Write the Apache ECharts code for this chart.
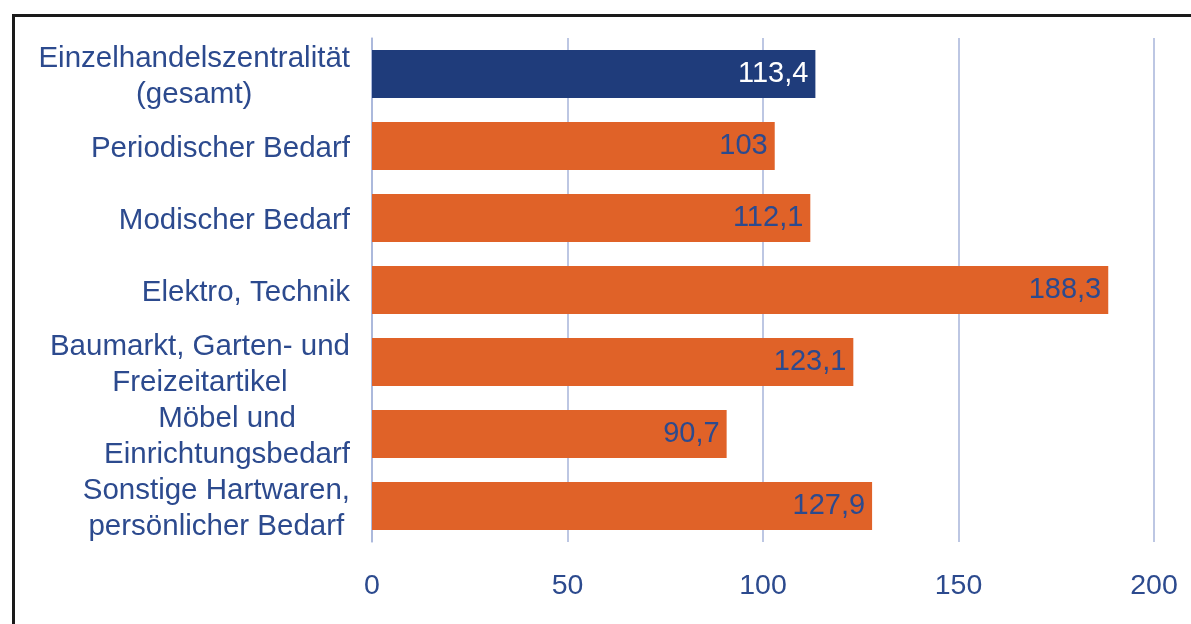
<!DOCTYPE html>
<html>
<head>
<meta charset="utf-8">
<script src="https://cdn.jsdelivr.net/npm/echarts@6/dist/echarts.min.js"></script>
<style>
  html, body { margin: 0; padding: 0; background: #fff; }
  #chart { width: 1191px; height: 624px; }
</style>
</head>
<body>
<div id="chart"></div>
<script>
// Kategorien von oben nach unten
var categories = [
  'Einzelhandelszentralität\n(gesamt)',
  'Periodischer Bedarf',
  'Modischer Bedarf',
  'Elektro, Technik',
  'Baumarkt, Garten- und\nFreizeitartikel',
  'Möbel und\nEinrichtungsbedarf',
  'Sonstige Hartwaren,\npersönlicher Bedarf'
];
var values = [113.4, 103, 112.1, 188.3, 123.1, 90.7, 127.9];
var totalIndex = 0; // gesamt-Balken in blau
var xTicks = [0, 50, 100, 150, 200];

var textColor = '#2c4a8e';
var font = '"Liberation Sans", Arial, sans-serif';

var chart = echarts.init(document.getElementById('chart'));

var option = {
  backgroundColor: '#fff',
  animation: false,
  grid: { left: 372, right: 37, top: 38, bottom: 82, containLabel: false },
  graphic: [{
    type: 'rect',
    z: -1,
    shape: { x: 13.5, y: 15.5, width: 1400, height: 800 },
    style: { fill: 'none', stroke: '#1a1a1a', lineWidth: 3 }
  }],
  xAxis: {
    type: 'value',
    min: xTicks[0],
    max: xTicks[xTicks.length - 1],
    interval: 50,
    axisLine: { show: false },
    axisTick: { show: false },
    splitLine: { show: true, lineStyle: { color: '#a7b5da', width: 1.5 } },
    axisLabel: { color: textColor, fontSize: 28.5, fontFamily: font, margin: 30 }
  },
  yAxis: {
    type: 'category',
    inverse: true,
    data: categories,
    axisLine: { show: true, lineStyle: { color: '#a7b5da', width: 1.5 } },
    axisTick: { show: false },
    axisLabel: {
      margin: 22,
      align: 'right',
      padding: [5, 0, 0, 0],
      formatter: function (v) {
        return v.split('\n').map(function (l) { return '{c|' + l + '}'; }).join('\n');
      },
      rich: {
        c: { align: 'center', color: textColor, fontSize: 29.5, lineHeight: 36, fontFamily: font }
      }
    }
  },
  series: [{
    type: 'bar',
    barCategoryGap: '33%',
    data: values.map(function (v, i) {
      var isTotal = i === totalIndex;
      return {
        value: v,
        itemStyle: { color: isTotal ? '#1f3c7b' : '#e06228' },
        label: { color: isTotal ? '#ffffff' : textColor }
      };
    }),
    label: {
      show: true,
      position: 'insideRight',
      distance: 7,
      fontSize: 29,
      fontFamily: font,
      formatter: function (p) { return String(p.value).replace('.', ','); }
    }
  }]
};

chart.setOption(option);
</script>
</body>
</html>
